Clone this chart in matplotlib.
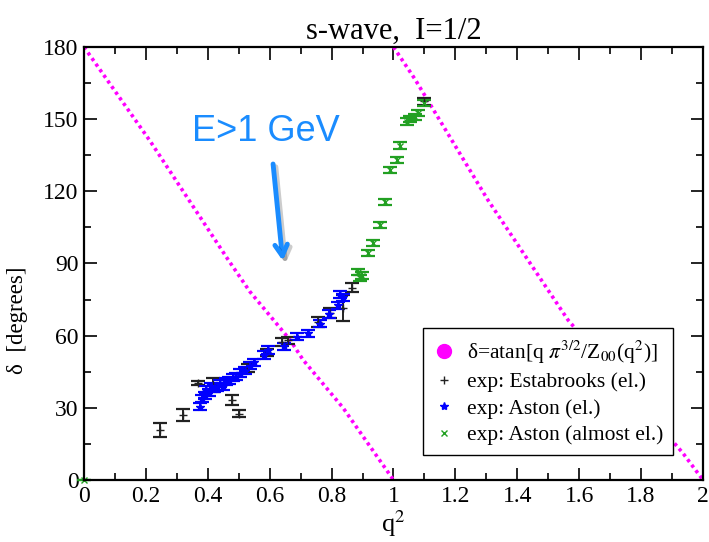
import numpy as np
import matplotlib
matplotlib.use('Agg')
import matplotlib.pyplot as plt
from matplotlib.lines import Line2D
import matplotlib.patheffects as pe

plt.rcParams['font.family'] = ['Liberation Serif', 'DejaVu Serif']
plt.rcParams['mathtext.fontset'] = 'stix'

# Luscher curve delta=atan[q pi^{3/2}/Z00(q^2)]
curve1_q2 = [0.0, 0.213, 0.466, 0.536, 0.666, 0.708, 0.837, 1.0]
curve1_d = [180.0, 141.0, 91.5, 78.3, 58.2, 49.9, 30.0, 0.0]
curve2_q2 = [1.0, 1.069, 1.305, 1.564, 1.935, 2.0]
curve2_d = [180.0, 166.7, 116.4, 66.5, 11.2, 0.0]

# Estabrooks (elastic)
estab_q2 = [0.246, 0.32, 0.368, 0.417, 0.478, 0.50, 0.53, 0.59, 0.64, 0.66,
            0.756, 0.795, 0.837, 0.866, 1.10]
estab_d = [20.8, 27.0, 40.3, 39.5, 33.3, 27.5, 46.6, 53.0, 57.4, 58.0,
           65.7, 69.4, 71.5, 80.0, 157.5]
estab_err = [2.8, 2.5, 1.0, 3.0, 2.0, 1.5, 1.5, 1.5, 1.5, 1.5,
             2.0, 2.0, 5.5, 2.0, 1.5]

# Aston (elastic)
aston_q2 = [0.375, 0.38, 0.39, 0.395, 0.405, 0.41, 0.42, 0.43, 0.44, 0.45,
            0.46, 0.47, 0.48, 0.49, 0.505, 0.52, 0.535, 0.55, 0.58, 0.595,
            0.645, 0.688, 0.725, 0.763, 0.79, 0.82, 0.827, 0.837]
aston_d = [30.5, 34.0, 35.0, 37.5, 36.5, 39.0, 38.0, 38.5, 40.0, 39.0,
           41.0, 41.5, 42.5, 43.0, 44.5, 45.5, 47.5, 49.0, 52.0, 54.0,
           55.5, 59.5, 61.0, 65.0, 69.0, 72.7, 77.0, 76.0]
aston_err = [1.5] * len(aston_q2)

# Aston (almost elastic)
aston2_q2 = [0.0, 0.886, 0.892, 0.898, 0.918, 0.935, 0.956, 0.972, 0.989, 1.011,
             1.021, 1.043, 1.053, 1.069, 1.08, 1.10]
aston2_d = [0.0, 86.5, 84.0, 85.0, 94.4, 98.5, 106.0, 115.6, 129.0, 133.0,
            139.0, 149.0, 150.0, 151.0, 152.5, 156.7]
aston2_err = [0.0] + [1.3] * 15

fig = plt.figure(figsize=(7.09, 5.42), dpi=100)
ax = fig.add_axes([0.1185, 0.1144, 0.873, 0.7989])

ax.plot(curve1_q2, curve1_d, color='#ff00ff', lw=2.6, ls=(0, (0.9, 1.0)))
ax.plot(curve2_q2, curve2_d, color='#ff00ff', lw=2.6, ls=(0, (0.9, 1.0)))

eb = dict(capsize=5, capthick=1.6, elinewidth=1.4, ls='none')
ax.errorbar(estab_q2, estab_d, yerr=estab_err, color='#222222', marker='+',
            ms=6, **eb)
ax.errorbar(aston_q2, aston_d, yerr=aston_err, color='#0000ff', marker='*',
            ms=6, **eb)
ax.errorbar(aston2_q2, aston2_d, yerr=aston2_err, color='#22a022', marker='x',
            ms=4, clip_on=False, **eb)

ax.set_xlim(0, 2)
ax.set_ylim(0, 180)
ax.set_xticks(np.arange(0, 2.01, 0.2))
ax.set_xticklabels(['0', '0.2', '0.4', '0.6', '0.8', '1', '1.2', '1.4', '1.6', '1.8', '2'])
ax.set_xticks(np.arange(0.1, 2.0, 0.2), minor=True)
ax.set_yticks(np.arange(0, 181, 30))
ax.set_yticks(np.arange(15, 180, 30), minor=True)
ax.tick_params(which='both', direction='in', top=True, right=True, labelsize=17,
               width=1.2, pad=4)
ax.tick_params(which='major', length=9)
ax.tick_params(which='minor', length=5)
for s in ax.spines.values():
    s.set_linewidth(1.6)

ax.set_title('s-wave,  I=1/2', fontsize=22, pad=6)
ax.set_xlabel('q$^2$', fontsize=19, labelpad=1)
ax.set_ylabel('δ  [degrees]', fontsize=16.5)
ax.yaxis.set_label_coords(-0.09, 0.37)

handles = [
    Line2D([], [], color='#ff00ff', marker='o', ms=10, ls='none'),
    Line2D([], [], color='#222222', marker='+', ms=6, ls='none'),
    Line2D([], [], color='#0000ff', marker='*', ms=6, ls='none'),
    Line2D([], [], color='#22a022', marker='x', ms=4, ls='none'),
]
labels = [r'δ=atan[q $\pi^{3/2}$/Z$_{00}$(q$^2$)]', 'exp: Estabrooks (el.)',
          'exp: Aston (el.)', 'exp: Aston (almost el.)']
leg = ax.legend(handles, labels, loc='lower left', bbox_to_anchor=(0.548, 0.058),
                borderaxespad=0, fontsize=15.5, frameon=True, fancybox=False,
                handlelength=1.0, handletextpad=0.6, labelspacing=0.3,
                borderpad=0.45)
leg.get_frame().set_edgecolor('black')
leg.get_frame().set_linewidth(1.0)
leg.get_frame().set_alpha(1)

blue = '#1a8cff'
ax.text(0.588, 145, 'E>1 GeV', color=blue, fontsize=26, family='Liberation Sans',
        ha='center', va='center')
ax.annotate('', xy=(0.643, 90.0), xytext=(0.61, 132.5),
            arrowprops=dict(arrowstyle='->,head_length=0.8,head_width=0.45',
                            color=blue, lw=3.5,
                            path_effects=[pe.SimpleLineShadow(offset=(2, -2), alpha=0.2),
                                          pe.Normal()]))

fig.savefig('out.png', dpi=100)
